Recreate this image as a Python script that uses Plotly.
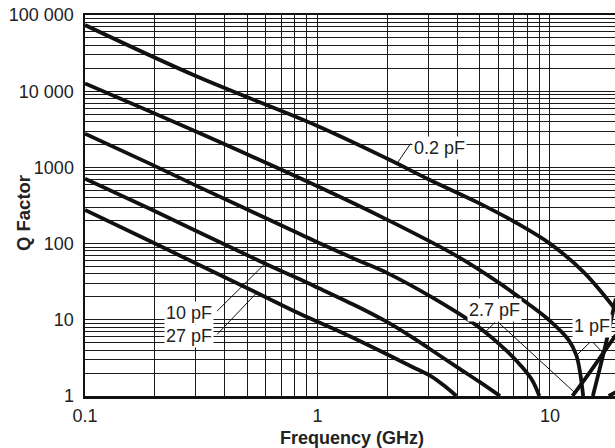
import numpy as np
import plotly.graph_objects as go

# ---------------- data ----------------
x_tick_vals = [0.1, 1, 10]
x_tick_text = ["0.1", "1", "10"]
y_tick_vals = [1, 10, 100, 1000, 10000, 100000]
y_tick_text = ["1", "10", "100", "1000", "10 000", "100 000"]

series_names = ["0.2 pF", "1 pF", "2.7 pF", "10 pF", "27 pF"]

# 0.2 pF
f_02 = [0.1, 0.3, 1, 2, 3, 5, 7, 10, 14, 19.2]
q_02 = [73800, 15800, 3500, 1300, 700, 335, 195, 100, 42, 13.5]

# 1 pF (below and above self-resonance)
f_1 = [0.1, 0.3, 1, 2, 4, 6, 8, 10, 12, 13, 13.9]
q_1 = [12600, 2950, 565, 205, 68, 31, 16.5, 9.7, 5.5, 3.4, 1.0]
f_1r = [15.3, 16.5, 17.3, 18.2, 19.2]
q_1r = [1.0, 2.5, 4.5, 9, 19]

# 2.7 pF
f_27 = [0.1, 0.19, 0.31, 0.84, 1, 1.5, 2, 3.1, 4, 5, 6.5, 7.5, 8.4, 9.0]
q_27 = [2770, 1120, 551, 134, 104, 60, 41, 19.9, 12.4, 7.8, 3.94, 2.5, 1.6, 1.0]
f_27r = [12.5, 14.5, 17, 19.2]
q_27r = [1.0, 1.85, 3.7, 6.3]

# 10 pF
f_10 = [0.1, 0.19, 0.6, 0.84, 1, 1.5, 2, 2.5, 3, 4, 5, 6.1]
q_10 = [710, 286, 54, 34, 26.5, 14.7, 9.3, 6.15, 4.27, 2.37, 1.52, 1.0]
f_10r = [17.9, 19.2]
q_10r = [1.0, 1.12]

# 27 pF
f_270 = [0.1, 0.19, 0.55, 0.84, 1.3, 2, 2.6, 3.1, 3.6, 3.96]
q_270 = [276, 108, 22.5, 12, 6.6, 3.5, 2.35, 1.8, 1.28, 1.0]

# ---------------- helpers ----------------
def q_at(fs, qs, f):
    return float(10 ** np.interp(np.log10(f), np.log10(fs), np.log10(qs)))

L = np.log10

X_MIN, X_MAX = 0.1, 19.05
grid_x = [m * d for d in (0.1, 1, 10) for m in range(1, 10) if m * d <= 20]
grid_x_text = [x_tick_text[x_tick_vals.index(v)] if v in x_tick_vals else "" for v in grid_x]
grid_y = [m * d for d in (1, 10, 100, 1000, 10000) for m in range(1, 10)] + [100000]
grid_y_text = [y_tick_text[y_tick_vals.index(v)] if v in y_tick_vals else "" for v in grid_y]

fig = go.Figure()
line = dict(color="#111111", width=3.8, shape="spline", smoothing=1.0)
for fs, qs in [(f_02, q_02), (f_1, q_1), (f_1r, q_1r), (f_27, q_27), (f_27r, q_27r),
               (f_10, q_10), (f_10r, q_10r), (f_270, q_270)]:
    fig.add_trace(go.Scatter(x=fs, y=qs, mode="lines", line=line,
                             showlegend=False, hoverinfo="skip", cliponaxis=True))

FONT = "Liberation Sans, Arial, Helvetica, sans-serif"
TXT = "#222222"

annotations = []

def label(text, fx, qy):
    annotations.append(dict(x=L(fx), y=L(qy), xref="x", yref="y", text=text,
                            showarrow=False, bgcolor="white", borderpad=1,
                            font=dict(family=FONT, size=18, color=TXT)))

def leader(f_tail, q_tail, f_head, q_head):
    annotations.append(dict(x=L(f_head), y=L(q_head), xref="x", yref="y",
                            ax=L(f_tail), ay=L(q_tail), axref="x", ayref="y",
                            text="", showarrow=True, arrowhead=0, arrowwidth=1,
                            arrowcolor="#111111", standoff=0, startstandoff=0))

# 0.2 pF
leader(2.54, 2150, 2.2, q_at(f_02, q_02, 2.2))
label(series_names[0], 3.36, 1780)
# 10 pF / 27 pF
leader(0.365, 12.5, 0.595, q_at(f_10, q_10, 0.595))
leader(0.365, 6.15, 0.548, q_at(f_270, q_270, 0.548))
label(series_names[3], 0.279, 12.4)
label(series_names[4], 0.279, 6.15)
# 2.7 pF
leader(5.9, 9.7, 5.25, q_at(f_27, q_27, 5.25))
leader(5.9, 9.7, 12.8, q_at(f_27r, q_27r, 12.8))
label(series_names[2], 5.8, 13.3)
# 1 pF
leader(15.1, 5.3, 13.0, q_at(f_1, q_1, 13.0))
leader(15.1, 5.3, 17.0, q_at(f_1r, q_1r, 17.0))
label(series_names[1], 15.2, 8.2)

# axis titles
annotations.append(dict(x=(352 - 85) / 530, y=(396 - 437.5) / 381, xref="paper", yref="paper",
                        text="<b>Frequency (GHz)</b>", showarrow=False,
                        xanchor="center", yanchor="middle",
                        font=dict(family=FONT, size=18, color=TXT)))
annotations.append(dict(x=(23 - 85) / 530, y=(396 - 213) / 381, xref="paper", yref="paper",
                        text="<b>Q Factor</b>", showarrow=False, textangle=-90,
                        xanchor="center", yanchor="middle",
                        font=dict(family=FONT, size=18.5, color=TXT)))

fig.update_layout(
    width=615, height=448,
    margin=dict(l=85, r=0, t=15, b=52),
    paper_bgcolor="white", plot_bgcolor="white",
    font=dict(family=FONT, size=18, color=TXT),
    annotations=annotations,
    showlegend=False,
)
fig.update_xaxes(type="log", range=[L(X_MIN), L(X_MAX)],
                 tickmode="array", tickvals=grid_x, ticktext=grid_x_text,
                 showgrid=True, gridcolor="#1a1a1a", gridwidth=1,
                 showline=True, linecolor="#111111", linewidth=2.5, mirror=True,
                 ticks="outside", ticklen=2, tickcolor="rgba(0,0,0,0)",
                 zeroline=False, tickfont=dict(size=18, color=TXT))
fig.update_yaxes(type="log", range=[0, 5],
                 tickmode="array", tickvals=grid_y, ticktext=grid_y_text,
                 showgrid=True, gridcolor="#1a1a1a", gridwidth=1,
                 showline=True, linecolor="#111111", linewidth=2.5, mirror=False,
                 ticks="outside", ticklen=5, tickcolor="rgba(0,0,0,0)",
                 zeroline=False, tickfont=dict(size=18, color=TXT))

fig.write_html("out.html",
               config={"displayModeBar": False, "staticPlot": True},
               post_script="document.body.style.margin='0';document.body.style.padding='0';")
